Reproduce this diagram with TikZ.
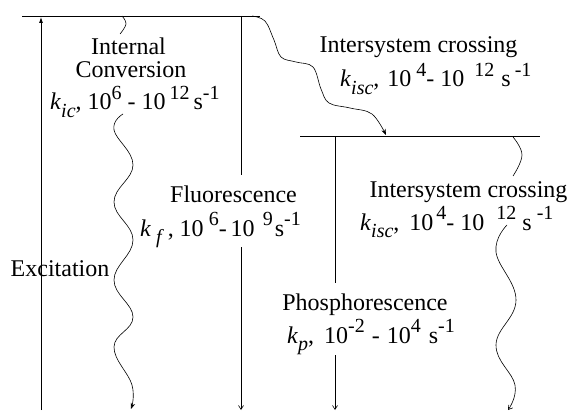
\documentclass[tikz,border=0pt]{standalone}
\usepackage{fontspec}
\setmainfont{Liberation Serif}
\usetikzlibrary{arrows.meta}
\newcommand{\spx}[1]{\raisebox{0.42em}{\fontsize{20}{20}\selectfont #1}}
\newcommand{\sbx}[1]{\raisebox{-0.3em}{\fontsize{20}{20}\selectfont\itshape #1}}
\newcommand{\kk}{\textit{k}}
\begin{document}
\begin{tikzpicture}[x=1pt,y=-1pt,
  lbl/.style={inner sep=0pt, anchor=base, font=\fontsize{24}{24}\selectfont},
  lblw/.style={lbl, anchor=base west},
  lvl/.style={line width=0.8pt},
  ln/.style={line width=0.6pt},
  wv/.style={line width=0.6pt},
  fill tip/.style={-{Stealth[length=6pt,width=4.5pt]}},
  barb tip/.style={-{Straight Barb[length=4pt,width=5pt]}}]
\useasboundingbox (0,0) rectangle (568,412);
% energy levels
\coordinate (S1L) at (22,16);
\coordinate (S1R) at (260,16);
\coordinate (T1L) at (300,136);
\coordinate (T1R) at (540,136);
\draw[lvl] (S1L) -- (S1R);
\draw[lvl] (T1L) -- (T1R);
% excitation
\coordinate (exB) at (41,410);
\coordinate (exG1) at (41,250);
\coordinate (exG2) at (41,287);
\coordinate (exT) at (41,17);
\draw[line width=0.8pt] (exB) -- (exG1);
\draw[line width=0.8pt, -{Latex[length=6pt,width=4pt]}] (exG2) -- (exT);
\node[lbl] (exc) at (60,276) {Excitation};
% internal conversion
\draw[wv] plot[smooth, tension=0.7] coordinates {(122,16) (126,24) (120,34)};
\draw[wv, fill tip] plot[smooth, tension=0.7] coordinates {(123,114) (114,130) (133,165) (114,202) (133,240) (114,280) (133,317) (114,347) (132,385) (131,409)};
\node[lbl] (ic1) at (128.5,55) {Internal};
\node[lbl] (ic2) at (131,77.5) {Conversion};
\node[lblw] (ic3) at (50,110) {\kk\sbx{ic}, 10\spx{6} - 10\,\spx{12}\,s\spx{-1}};
% fluorescence
\coordinate (flT) at (241,16);
\coordinate (flG1) at (241,175);
\coordinate (flG2) at (241,247);
\coordinate (flB) at (241,410);
\draw[ln] (flT) -- (flG1);
\draw[ln, barb tip] (flG2) -- (flB);
\node[lbl] (fl1) at (233.5,202) {Fluorescence};
\node[lblw] (fl2) at (140,236) {\kk\hspace{5pt}\sbx{f}\hspace{6pt}, 10\hspace{5pt}\spx{6}-\hspace{4pt}10\hspace{8pt}\spx{9}\hspace{2pt}s\spx{-1}};
% intersystem crossing S1 -> T1
\draw[wv, fill tip] plot[smooth, tension=0.6] coordinates {(252,16) (265,21) (274,40) (281,57) (296,62) (313,67) (321,89) (329,103) (350,108) (372,114) (386,135)};
\node[lbl] (isc1) at (418.5,53) {Intersystem crossing};
\node[lblw] (isc1k) at (340,87) {\kk\sbx{isc},\hspace{8pt}10\hspace{5pt}\spx{4}-\hspace{6pt}10\hspace{10pt}\spx{12}\hspace{7pt}s\hspace{4pt}\spx{-1}};
% phosphorescence
\coordinate (phT) at (335,136);
\coordinate (phG1) at (335,283);
\coordinate (phG2) at (335,355);
\coordinate (phB) at (335,410);
\draw[ln] (phT) -- (phG1);
\draw[ln, barb tip] (phG2) -- (phB);
\node[lbl] (ph1) at (365,310) {Phosphorescence};
\node[lblw] (ph2) at (287,343) {\kk\sbx{p},\hspace{10pt}10\spx{-2}\hspace{7pt}-\hspace{7pt}10\spx{4}\hspace{8pt}s\spx{-1}};
% intersystem crossing T1 -> S0
\draw[wv] plot[smooth, tension=0.7] coordinates {(513,137) (522,155) (513,176)};
\draw[wv, barb tip] plot[smooth, tension=0.7] coordinates {(507,225) (496,252) (516,300) (496,345) (515,385) (508,410)};
\node[lbl] (isc2) at (468.5,197) {Intersystem crossing};
\node[lblw] (isc2k) at (360,230) {\kk\sbx{isc},\hspace{10pt}10\hspace{3pt}\spx{4}-\hspace{6pt}10\hspace{12pt}\spx{12}\hspace{6pt}s\hspace{5pt}\spx{-1}};
\end{tikzpicture}
\end{document}
